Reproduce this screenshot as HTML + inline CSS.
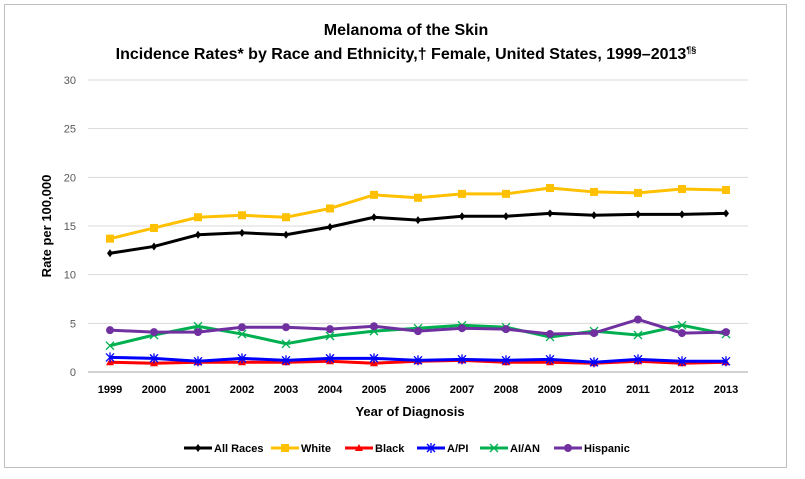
<!DOCTYPE html>
<html><head><meta charset="utf-8"><style>
body{margin:0;background:#fff;font-family:"Liberation Sans",Arial,sans-serif}
svg text{font-family:"Liberation Sans",Arial,sans-serif}
</style></head><body>
<svg width="805" height="474">
<rect x="4.5" y="4.5" width="782" height="463" fill="#fff" stroke="#bfbfbf"/>
<text x="406" y="35" text-anchor="middle" font-size="16" font-weight="bold">Melanoma of the Skin</text>
<text x="406" y="59" text-anchor="middle" font-size="16" font-weight="bold">Incidence Rates* by Race and Ethnicity,† Female, United States, 1999–2013<tspan font-size="9" dy="-6">¶§</tspan></text>
<g id="grid"></g><g id="axes"></g><g id="series"></g>
<text x="410" y="416" text-anchor="middle" font-size="13" font-weight="bold">Year of Diagnosis</text>
<text transform="translate(51,226) rotate(-90)" text-anchor="middle" font-size="13" font-weight="bold">Rate per 100,000</text>
<g id="legend"></g>
</svg>
<script>
const years=[1999,2000,2001,2002,2003,2004,2005,2006,2007,2008,2009,2010,2011,2012,2013];
const yTicks=[0,5,10,15,20,25,30];
const allRaces=[12.2,12.9,14.1,14.3,14.1,14.9,15.9,15.6,16.0,16.0,16.3,16.1,16.2,16.2,16.3];
const white=[13.7,14.8,15.9,16.1,15.9,16.8,18.2,17.9,18.3,18.3,18.9,18.5,18.4,18.8,18.7];
const black=[1.0,0.9,1.0,1.0,1.0,1.1,0.9,1.1,1.2,1.0,1.0,0.9,1.1,0.9,1.0];
const api=[1.5,1.4,1.1,1.4,1.2,1.4,1.4,1.2,1.3,1.2,1.3,1.0,1.3,1.1,1.1];
const aian=[2.7,3.8,4.7,3.9,2.9,3.7,4.2,4.5,4.8,4.6,3.6,4.2,3.8,4.8,3.9];
const hispanic=[4.3,4.1,4.1,4.6,4.6,4.4,4.7,4.2,4.5,4.4,3.9,4.0,5.4,4.0,4.1];
const NS="http://www.w3.org/2000/svg";
const X0=88,X1=748;const Y0=372,Y1=80;
function x(i){return X0+(X1-X0)/years.length*(i+0.5);}
function y(v){return Y0-(v/30)*(Y0-Y1);}
function mk(t,a,p){const e=document.createElementNS(NS,t);for(const k in a)e.setAttribute(k,a[k]);(p||document.querySelector('svg')).appendChild(e);return e;}
const grid=document.getElementById('grid'),axes=document.getElementById('axes'),ser=document.getElementById('series'),leg=document.getElementById('legend');
yTicks.forEach(t=>{
 const l=mk('line',{x1:X0,x2:X1,y1:y(t),y2:y(t),stroke:t===0?'#a6a6a6':'#d9d9d9'},grid);
 
 
 const tx=mk('text',{x:X0-12,y:y(t)+4,'text-anchor':'end','font-size':11,fill:'#595959'},axes);tx.textContent=t;
 
 
});
years.forEach((yr,i)=>{
 const tx=mk('text',{x:x(i),y:393,'text-anchor':'middle','font-size':11,'font-weight':'bold'},axes);tx.textContent=yr;
 
 
});
function marker(kind,cx,cy,c,g){
 if(kind==='diamond')mk('polygon',{points:`${cx},${cy-4} ${cx+3},${cy} ${cx},${cy+4} ${cx-3},${cy}`,fill:c},g);
 else if(kind==='square')mk('rect',{x:cx-4,y:cy-4,width:8,height:8,fill:c},g);
 else if(kind==='triangle')mk('polygon',{points:`${cx},${cy-4} ${cx+4},${cy+3} ${cx-4},${cy+3}`,fill:c},g);
 else if(kind==='star'){[[-4,-4,4,4],[-4,4,4,-4],[0,-5,0,5]].forEach(d=>mk('line',{x1:cx+d[0],y1:cy+d[1],x2:cx+d[2],y2:cy+d[3],stroke:c,'stroke-width':1.3},g));}
 else if(kind==='x'){[[-4,-4,4,4],[-4,4,4,-4]].forEach(d=>mk('line',{x1:cx+d[0],y1:cy+d[1],x2:cx+d[2],y2:cy+d[3],stroke:c,'stroke-width':1.3},g));}
 else mk('circle',{cx:cx,cy:cy,r:4,fill:c},g);
}
const series=[["All Races",allRaces,"#000000","diamond"],["White",white,"#ffc000","square"],["Black",black,"#ff0000","triangle"],["A/PI",api,"#0000ff","star"],["AI/AN",aian,"#00b050","x"],["Hispanic",hispanic,"#7030a0","circle"]];
const order=[4,5,0,1,2,3];
order.forEach(si=>{const s=series[si];
 const g=mk('g',{},ser);
 
 
 mk('polyline',{points:s[1].map((v,i)=>x(i)+','+y(v)).join(' '),fill:'none',stroke:s[2],'stroke-width':3},g);
 s[1].forEach((v,i)=>marker(s[3],x(i),y(v),s[2],g));
});
series.forEach((s,i)=>{
 const g=mk('g',{},leg);
 
 
 const sx=[184,271,345,417,480,554][i];
 mk('line',{x1:sx,x2:sx+28,y1:448,y2:448,stroke:s[2],'stroke-width':3},g);
 marker(s[3],sx+14,448,s[2],g);
 const t=mk('text',{x:sx+30,y:452,'font-size':11,'font-weight':'bold'},g);t.textContent=s[0];
});
</script>
</body></html>
